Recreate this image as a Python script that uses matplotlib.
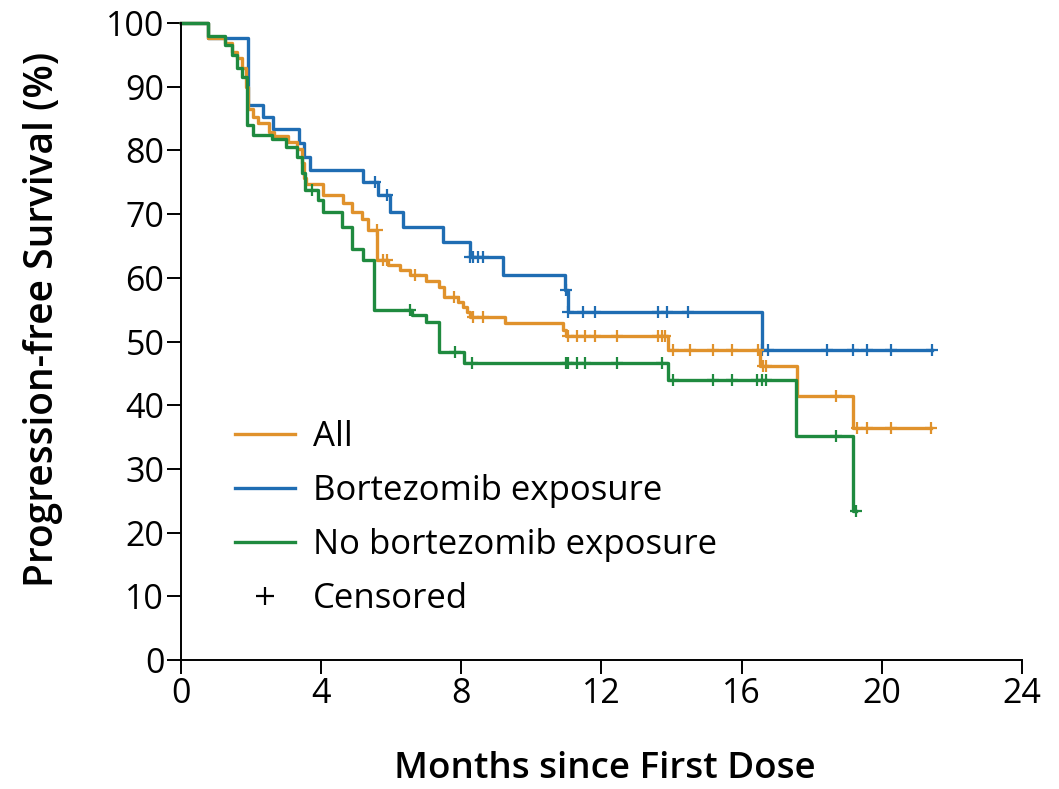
import numpy as np
import matplotlib.pyplot as plt
from matplotlib.lines import Line2D

plt.rcParams['font.family'] = ['Open Sans', 'DejaVu Sans']

# Kaplan-Meier step data (months, % progression-free)
bort_t = [0, 0.78, 1.9, 2.35, 2.63, 3.37, 3.51, 3.68, 5.2, 5.63, 5.96, 6.35,
          7.49, 8.25, 9.2, 10.96, 11.05, 16.57, 21.42]
bort_s = [100, 97.7, 87.2, 85.3, 83.3, 81.1, 79.0, 76.9, 75.1, 73.0, 70.4, 68.0,
          65.7, 63.3, 60.4, 58.1, 54.6, 48.6, 48.6]
bort_cens = [5.54, 5.87, 8.25, 8.34, 8.49, 8.63, 11.0, 11.05, 11.48, 11.81,
             13.62, 13.86, 14.48, 16.57, 16.76, 18.45, 19.19, 19.58, 20.26, 21.42]

all_t = [0, 0.78, 1.25, 1.45, 1.6, 1.75, 1.85, 1.92, 2.05, 2.2, 2.5, 2.65, 3.05,
         3.3, 3.44, 3.5, 3.58, 4.06, 4.63, 4.87, 5.16, 5.35, 5.6, 5.9, 6.25, 6.54,
         7.0, 7.35, 7.5, 7.9, 8.05, 8.15, 8.25, 9.25, 10.91, 11.0, 13.91, 16.52,
         17.59, 19.19, 21.4]
all_s = [100, 97.7, 96.8, 95.5, 94.5, 93.0, 90.0, 86.5, 85.3, 84.3, 82.9, 82.2, 81.4,
         80.3, 78.0, 75.7, 74.8, 73.0, 71.7, 70.4, 69.3, 67.5, 62.8, 62.0, 61.2, 60.4,
         59.5, 58.5, 57.0, 56.2, 55.4, 54.6, 53.9, 52.9, 51.8, 50.8, 48.7, 46.2,
         41.4, 36.4, 36.4]
all_cens = [5.58, 5.77, 5.87, 6.68, 7.8, 8.34, 8.63, 11.05, 11.29, 11.53, 11.81,
            12.43, 13.62, 13.72, 13.81, 14.05, 14.53, 15.19, 15.72, 16.48, 16.62,
            16.71, 18.69, 19.28, 19.58, 20.26, 21.4]

nobort_t = [0, 0.78, 1.25, 1.45, 1.6, 1.73, 1.88, 2.06, 2.6, 3.0, 3.3, 3.45, 3.55,
            3.92, 4.06, 4.59, 4.87, 5.2, 5.5, 6.6, 7.0, 7.37, 8.08, 13.91, 17.55,
            19.19, 19.26]
nobort_s = [100, 98.0, 96.5, 95.0, 93.0, 91.5, 84.0, 82.5, 81.8, 80.6, 79.0, 76.5,
            73.8, 72.2, 70.4, 68.0, 64.6, 62.8, 55.0, 54.2, 53.0, 48.3, 46.6, 44.0,
            35.2, 23.4, 23.4]
nobort_cens = [3.73, 6.54, 7.82, 8.3, 11.0, 11.05, 11.29, 11.53, 12.43, 13.72,
               14.05, 15.19, 15.72, 16.43, 16.57, 16.71, 18.69, 19.26]

labels = ['All', 'Bortezomib exposure', 'No bortezomib exposure']
c_all = '#e0922c'
c_bort = '#1f6db3'
c_nobort = '#1f8a3f'


def at(times, surv, tc):
    idx = np.searchsorted(times, tc, side='right') - 1
    return np.array(surv)[idx]


fig = plt.figure(figsize=(10.59, 7.89), dpi=100)
ax = fig.add_axes([0.1709, 0.1635, 0.7941, 0.8073])

series = [(bort_t, bort_s, bort_cens, c_bort),
          (all_t, all_s, all_cens, c_all),
          (nobort_t, nobort_s, nobort_cens, c_nobort)]
for t, s, cens, col in series:
    ax.step(t, s, where='post', color=col, lw=2.4, clip_on=False)
    ax.plot(cens, at(t, s, cens), ls='none', marker='+', ms=9, mew=1.6,
            color=col, clip_on=False)

ax.set_xlim(0, 24)
ax.set_ylim(0, 100)
ax.set_xticks(range(0, 25, 4))
ax.set_yticks(range(0, 101, 10))
for sp in ['top', 'right']:
    ax.spines[sp].set_visible(False)
for sp in ['left', 'bottom']:
    ax.spines[sp].set_linewidth(1.4)
ax.tick_params(length=10, width=1.4, labelsize=24.5, pad=2)

ax.set_xlabel('Months since First Dose', fontsize=26.5, fontweight='semibold')
ax.set_ylabel('Progression-free Survival (%)', fontsize=28, fontweight='semibold')
ax.xaxis.set_label_coords(0.504, -0.143)
ax.yaxis.set_label_coords(-0.14, 0.535)

handles = [Line2D([], [], color=c_all, lw=2.4),
           Line2D([], [], color=c_bort, lw=2.4),
           Line2D([], [], color=c_nobort, lw=2.4),
           Line2D([], [], color='black', ls='none', marker='+', ms=13, mew=1.6)]
ax.legend(handles, labels + ['Censored'], loc='upper left',
          bbox_to_anchor=(0.0642, 0.377), frameon=False, fontsize=25,
          handlelength=1.73, handletextpad=0.52, labelspacing=0.58,
          borderpad=0, borderaxespad=0)

fig.savefig('out.png', dpi=100)
